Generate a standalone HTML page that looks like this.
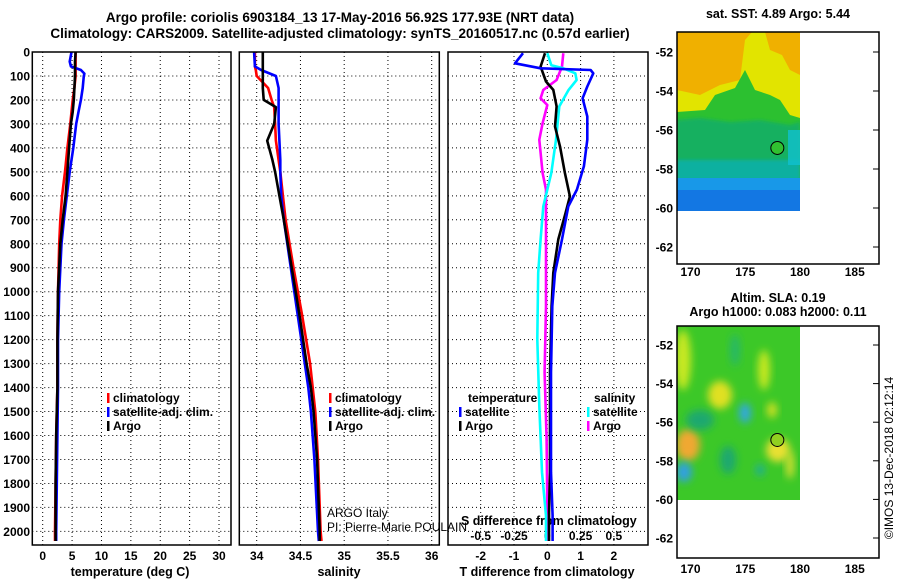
<!DOCTYPE html>
<html><head><meta charset="utf-8">
<style>
html,body{margin:0;padding:0;background:#fff;}
svg{display:block;font-family:"Liberation Sans",Arial,sans-serif;}
.b{font-weight:bold;}
</style></head>
<body>
<svg id="chart" width="900" height="580" viewBox="0 0 900 580" xmlns="http://www.w3.org/2000/svg">
<defs>
<filter id="blur4" x="-50%" y="-50%" width="200%" height="200%"><feGaussianBlur stdDeviation="4"/></filter>
<filter id="blur2" x="-50%" y="-50%" width="200%" height="200%"><feGaussianBlur stdDeviation="1.5"/></filter>
<clipPath id="clipMap1"><rect x="677" y="32" width="123" height="179"/></clipPath>
<clipPath id="clipMap2"><rect x="677" y="326" width="123" height="174"/></clipPath>
</defs>
<g id="titles" class="b" font-size="13.5" text-anchor="middle">
<text x="340" y="22">Argo profile: coriolis 6903184_13 17-May-2016 56.92S 177.93E (NRT data)</text>
<text x="340" y="38">Climatology: CARS2009. Satellite-adjusted climatology: synTS_20160517.nc (0.57d earlier)</text>
</g>
<g id="profiles"></g>
<g id="maps"></g>
</svg>
<script>
// ---- data ----
var depthTicks=[0,100,200,300,400,500,600,700,800,900,1000,1100,1200,1300,1400,1500,1600,1700,1800,1900,2000];
var tempTicks=[0,5,10,15,20,25,30];
var salTicks=[34,34.5,35,35.5,36];
var salTickLabels=["34","34.5","35","35.5","36"];
var tdTicks=[-2,-1,0,1,2];
var sdTickVals=[-0.5,-0.25,0,0.25,0.5];
var sdTickLabels=["-0.5","-0.25","0","0.25","0.5"];

var tempDepth=[0,40,60,75,90,100,150,200,250,300,400,500,600,700,800,1000,1200,1400,1600,1800,2000,2040];
var tempClim=[5.6,5.6,5.6,5.6,5.6,5.6,5.4,5.1,4.9,4.7,4.2,3.8,3.3,3.0,2.8,2.6,2.5,2.5,2.3,2.2,2.1,2.1];
var tempSat=[4.9,4.6,4.8,6.5,7.1,7.0,6.8,6.5,6.1,5.7,5.2,4.6,4.1,3.6,3.2,2.8,2.6,2.6,2.5,2.4,2.3,2.3];
var tempArgo=[5.6,5.5,5.5,5.5,5.5,5.5,5.4,5.3,5.1,4.8,4.5,4.2,3.9,3.4,3.0,2.6,2.5,2.5,2.3,2.2,2.2,2.2];

var salDepth=[0,60,75,100,150,200,230,300,370,450,500,600,700,900,1100,1300,1400,1500,1700,2000,2040];
var salClim=[33.98,33.98,33.99,34.0,34.13,34.17,34.2,34.21,34.22,34.25,34.27,34.3,34.33,34.42,34.52,34.61,34.64,34.67,34.7,34.73,34.74];
var salSat=[33.97,33.98,34.05,34.22,34.25,34.25,34.25,34.25,34.26,34.27,34.27,34.28,34.31,34.39,34.47,34.55,34.59,34.62,34.66,34.7,34.71];
var salArgo=[34.07,34.07,34.07,34.07,34.07,34.08,34.22,34.2,34.12,34.18,34.21,34.26,34.31,34.4,34.49,34.57,34.62,34.65,34.69,34.72,34.72];

var tdSatDepth=[5,47,68,75,89,144,193,269,366,477,574,644,782,921,1060,1337,1753,1934,2040];
var tdSat=[-0.73,-0.97,-0.2,1.3,1.38,1.2,1.06,1.2,1.2,1.1,0.89,0.63,0.44,0.23,0.15,0.11,0.11,0.16,0.16];
var tdArgoDepth=[5,61,123,158,227,311,394,505,602,671,782,921,1060,1337,1753,1920,2040];
var tdArgo=[-0.07,-0.2,-0.04,0.18,0.28,0.23,0.38,0.53,0.68,0.55,0.33,0.18,0.13,0.08,0.08,0.05,0.05];
var sdSatDepth=[5,55,68,89,117,158,227,366,505,644,782,921,1198,1476,1753,1934,2040];
var sdSat=[0.0,0.03,0.12,0.21,0.22,0.16,0.09,0.065,0.03,-0.03,-0.05,-0.068,-0.075,-0.06,-0.04,-0.01,-0.01];
var sdArgoDepth=[5,61,117,158,193,221,297,366,505,574,782,1060,1337,1615,1892,2040];
var sdArgo=[0.12,0.11,0.07,-0.03,-0.05,0.0,-0.035,-0.06,-0.035,-0.01,-0.01,-0.01,-0.02,-0.005,0.0,0.0];

var mapLatTicks=[-52,-54,-56,-58,-60,-62];
var mapLonTicks=[170,175,180,185];
var floatLon=177.93, floatLat=-56.92;

// ---- axes ----
var NS="http://www.w3.org/2000/svg";
var TOP=52, BOT=545;
function yD(d){return 52+d*0.2397;}
function xT(t){return 42.7+t*5.877;}
function xS(s){return 256.7+(s-34)*87.5;}
function xTD(v){return 547.3+v*33.3;}
function xSD(v){return 547.3+v*133.2;}
function mapX(lon){return 800+(lon-180)*10.95;}
function mapY1(lat){return 52+(-52-lat)*19.5;}
function mapY2(lat){return 345+(-52-lat)*19.3;}

function mk(tag,attrs,parent){var e=document.createElementNS(NS,tag);for(var k in attrs)e.setAttribute(k,attrs[k]);(parent||document.getElementById('profiles')).appendChild(e);return e;}
var P=document.getElementById('profiles');
var panels=[{x0:32.3,x1:231,name:'temperature-panel'},{x0:239.3,x1:439.3,name:'salinity-panel'},{x0:448,x1:648,name:'difference-panel'}];
panels.forEach(function(p){
  var g=mk('g',{},P);
  
  
  depthTicks.forEach(function(d){
    var l=mk('line',{x1:p.x0,x2:p.x1,y1:yD(d),y2:yD(d),stroke:'#000','stroke-width':1,'stroke-dasharray':'1,3'},g);
    
    
  });
  p.g=g;
});
function vgrid(g,xs){xs.forEach(function(x){var l=mk('line',{x1:x,x2:x,y1:TOP,y2:BOT,stroke:'#000','stroke-width':1,'stroke-dasharray':'1,3'},g);
  
  });}
vgrid(panels[0].g,tempTicks.map(xT));
vgrid(panels[1].g,salTicks.map(xS));
vgrid(panels[2].g,tdTicks.map(xTD));

// depth labels
var dl=mk('g',{'font-size':12,'font-weight':'bold','text-anchor':'end'},P);


depthTicks.forEach(function(d){var t=mk('text',{x:30,y:yD(d)+4.5},dl);t.textContent=d;
  
  });

function xlabels(vals,labels,fx,y,name,size){var g=mk('g',{'font-size':size||12,'font-weight':'bold','text-anchor':'middle'},P);
  
  
  vals.forEach(function(v,i){var t=mk('text',{x:fx(v),y:y},g);t.textContent=labels[i];
    
    });}
xlabels(tempTicks,tempTicks.map(String),xT,560,'temperature-axis');
xlabels(salTicks,salTickLabels,xS,560,'salinity-axis');
xlabels(tdTicks,tdTicks.map(String),xTD,560,'t-difference-axis');
xlabels(sdTickVals,sdTickLabels,xSD,540,'s-difference-axis');

function txt(x,y,s,opts,name){var t=mk('text',Object.assign({x:x,y:y,'font-size':12.5,'font-weight':'bold'},opts||{}),P);t.textContent=s;
  
  return t;}
txt(130,576,'temperature (deg C)',{'text-anchor':'middle'},'x-axis-title-temperature');
txt(339,576,'salinity',{'text-anchor':'middle'},'x-axis-title-salinity');
txt(547,576,'T difference from climatology',{'text-anchor':'middle'},'x-axis-title-t-difference');
txt(461,525,'S difference from climatology',{},'s-difference-title');

function line(xs,ds,fx,color,name,w){
  var pts=xs.map(function(v,i){return fx(v).toFixed(1)+','+yD(ds[i]).toFixed(1);}).join(' ');
  var e=mk('polyline',{points:pts,fill:'none',stroke:color,'stroke-width':w||2.6,'stroke-linejoin':'round'},P);
  
  
}
line(tempClim,tempDepth,xT,'#ff0000','temperature-climatology-line');
line(tempSat,tempDepth,xT,'#0000ff','temperature-satellite-line');
line(tempArgo,tempDepth,xT,'#000000','temperature-argo-line');
line(salClim,salDepth,xS,'#ff0000','salinity-climatology-line');
line(salSat,salDepth,xS,'#0000ff','salinity-satellite-line');
line(salArgo,salDepth,xS,'#000000','salinity-argo-line');
line(sdArgo,sdArgoDepth,xSD,'#ff00ff','s-diff-argo-line');
line(sdSat,sdSatDepth,xSD,'#00ffff','s-diff-satellite-line');
line(tdArgo,tdArgoDepth,xTD,'#000000','t-diff-argo-line');
line(tdSat,tdSatDepth,xTD,'#0000ff','t-diff-satellite-line');

// frames
panels.forEach(function(p){var r=mk('rect',{x:p.x0,y:TOP,width:p.x1-p.x0,height:BOT-TOP,fill:'none',stroke:'#000','stroke-width':1.5},P);
  
  });

// legends
function legend(x,y,items,name){var g=mk('g',{},P);
  
  
  items.forEach(function(it,i){var yy=y+i*14;
    var b=mk('rect',{x:x,y:yy-9,width:2.5,height:10,fill:it[1]},g);
    
    
    var t=mk('text',{x:x+6,y:yy,'font-size':12,'font-weight':'bold'},g);t.textContent=it[0];
    
    });}
legend(107,402,[['climatology','#f00'],['satellite-adj. clim.','#00f'],['Argo','#000']],'temperature-legend');
legend(329,402,[['climatology','#f00'],['satellite-adj. clim.','#00f'],['Argo','#000']],'salinity-legend');
txt(468,402,'temperature',{'font-size':12},'legend-title-temperature');
legend(459,416,[['satellite','#00f'],['Argo','#000']],'t-diff-legend');
txt(594,402,'salinity',{'font-size':12},'legend-title-salinity');
legend(587,416,[['satellite','#0ff'],['Argo','#f0f']],'s-diff-legend');
txt(327,517,'ARGO Italy',{'font-weight':'normal','font-size':12},'credit-argo-italy');
txt(327,531,'PI: Pierre-Marie POULAIN',{'font-weight':'normal','font-size':12},'credit-pi');

// ---- maps ----
var M=document.getElementById('maps');
function mapFrame(y0,y1,fy,labOff,name){
  var g=mk('g',{},M);
  
  
  var r=mk('rect',{x:677,y:y0,width:202,height:y1-y0,fill:'none',stroke:'#000','stroke-width':1.5},g);
  
  
  mapLatTicks.forEach(function(l){var t=mk('text',{x:673,y:fy(l)+4.5,'font-size':12,'font-weight':'bold','text-anchor':'end'},g);t.textContent=l;
    
    
    var tk=mk('line',{x1:873,x2:879,y1:fy(l),y2:fy(l),stroke:'#000'},g);
    
    });
  mapLonTicks.forEach(function(l){var t=mk('text',{x:mapX(l),y:y1+labOff,'font-size':12,'font-weight':'bold','text-anchor':'middle'},g);t.textContent=l;
    
    });
  return g;
}
// map 1 imagery (SST)
var g1=mk('g',{'clip-path':'url(#clipMap1)'},M);


mk('rect',{x:677,y:32,width:123,height:179,fill:'#f0b000'},g1);
mk('polygon',{points:'677,90 700,95 720,85 740,80 745,40 752,32 765,32 770,50 782,55 790,70 800,75 800,211 677,211',fill:'#e2e400'},g1);
mk('polygon',{points:'677,112 705,110 715,95 735,88 745,70 755,90 770,95 780,100 790,115 800,118 800,211 677,211',fill:'#2cc030'},g1);
mk('polygon',{points:'677,120 700,118 730,122 760,120 790,125 800,122 800,211 677,211',fill:'#18b060',filter:'url(#blur2)'},g1);
mk('rect',{x:677,y:160,width:123,height:20,fill:'#10b0a0',filter:'url(#blur2)'},g1);
mk('rect',{x:677,y:178,width:123,height:33,fill:'#1898e8'},g1);
mk('rect',{x:677,y:190,width:123,height:21,fill:'#1060e0',opacity:0.6},g1);
mk('rect',{x:788,y:130,width:12,height:35,fill:'#10c0d0',opacity:0.8},g1);
var c1=mk('circle',{cx:mapX(floatLon),cy:mapY1(floatLat),r:6.5,fill:'#30c030',stroke:'#000','stroke-width':1},M);


mapFrame(32,264,mapY1,12,'sst-map-axes');
txt(778,18,'sat. SST: 4.89 Argo: 5.44',{'text-anchor':'middle','font-size':12.5},'sst-map-title');
txt(686,68,'+',{'font-size':9,'text-anchor':'middle'},'sst-map-marker');

// map 2 imagery (SLA)
var g2=mk('g',{'clip-path':'url(#clipMap2)'},M);


mk('rect',{x:677,y:326,width:123,height:174,fill:'#3cc828'},g2);
var blobs=[[683,360,8,30,'#c8e820'],[720,395,12,14,'#e0e020'],[764,370,6,20,'#c8e820'],[688,445,12,16,'#f0a830'],[778,450,12,12,'#e8e030'],[772,410,5,8,'#d0e020'],[745,413,6,10,'#30a8e0'],[700,420,14,10,'#1ca870'],[728,460,8,14,'#1ca870'],[684,472,8,10,'#30a0e0'],[790,465,4,14,'#d8e030'],[760,470,5,6,'#20b090'],[735,350,5,16,'#28b868']];
blobs.forEach(function(b){var e=mk('ellipse',{cx:b[0],cy:b[1],rx:b[2],ry:b[3],fill:b[4],filter:'url(#blur4)'},g2);
  
  });
var c2=mk('circle',{cx:mapX(floatLon),cy:mapY2(floatLat),r:6.5,fill:'#90d020',stroke:'#000','stroke-width':1},M);


mapFrame(326,558,mapY2,15,'sla-map-axes');
txt(778,302,'Altim. SLA: 0.19',{'text-anchor':'middle','font-size':12.5},'sla-map-title');
txt(778,316,'Argo h1000: 0.083 h2000: 0.11',{'text-anchor':'middle','font-size':12.5},'sla-map-subtitle');
txt(686,360,'+',{'font-size':9,'text-anchor':'middle'},'sla-map-marker');
var cp=txt(0,0,'©IMOS 13-Dec-2018 02:12:14',{'font-weight':'normal','font-size':12,'text-anchor':'middle',transform:'translate(893,458) rotate(-90)'},'copyright-stamp');
</script>
</body></html>
